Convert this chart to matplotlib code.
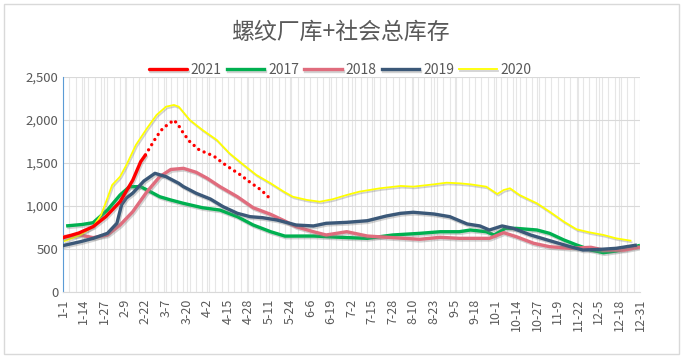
import numpy as np
import pandas as pd
import matplotlib
matplotlib.use('Agg')
import matplotlib.pyplot as plt
import matplotlib.patheffects as pe
from matplotlib.patches import Rectangle

plt.rcParams['font.family'] = ['Noto Sans CJK SC', 'DejaVu Sans']

# 日期轴 (1-1 ~ 12-31)
dates = pd.date_range('2021-01-01', '2021-12-31')
date_labels = [f'{d.month}-{d.day}' for d in dates]

# 2021 (实线 + 虚线预测)
d2021 = [0, 10, 19, 27, 36, 44, 49, 52]
v2021 = [632, 686, 760, 876, 1050, 1300, 1515, 1593]
d2021_dot = [52, 59, 63, 70, 73, 76, 80, 86, 95, 101, 105, 112, 118, 125, 130]
v2021_dot = [1593, 1806, 1904, 2000, 1934, 1845, 1748, 1651, 1582, 1497, 1446, 1361, 1276, 1186, 1097]

d2017 = [3, 12, 19, 28, 36, 42, 49, 55, 61, 68, 76, 88, 99, 110, 120, 131, 140, 158, 175, 192,
         208, 225, 238, 250, 257, 267, 272, 279, 286, 299, 307, 316, 324, 333, 341, 349, 358, 363]
v2017 = [770, 785, 806, 953, 1128, 1225, 1225, 1167, 1108, 1070, 1031, 980, 953, 876, 779, 701, 650, 651, 636, 624,
         663, 682, 701, 701, 721, 701, 663, 740, 740, 721, 682, 605, 547, 488, 457, 477, 515, 538]

d2018 = [0, 11, 19, 28, 36, 44, 53, 61, 68, 76, 84, 91, 99, 110, 120, 131, 140, 147, 158, 166,
         179, 192, 208, 225, 238, 250, 257, 269, 278, 286, 297, 307, 320, 333, 341, 354, 363]
v2018 = [643, 663, 632, 663, 779, 934, 1167, 1341, 1425, 1438, 1392, 1322, 1225, 1108, 980, 903, 825, 760, 701, 663,
         701, 651, 632, 613, 636, 624, 624, 624, 690, 643, 566, 527, 508, 520, 488, 488, 520]

d2019 = [0, 11, 19, 28, 34, 37, 40, 44, 51, 58, 65, 73, 76, 84, 93, 101, 110, 118, 126, 135, 143, 147,
         158, 166, 179, 192, 204, 213, 221, 234, 244, 255, 263, 269, 277, 284, 295, 307, 320, 328, 339, 349, 361]
v2019 = [540, 585, 624, 682, 799, 1017, 1094, 1150, 1290, 1380, 1341, 1264, 1225, 1148, 1081, 992, 915, 876, 864, 837, 799, 779,
         768, 799, 810, 829, 884, 915, 927, 907, 876, 791, 768, 721, 768, 740, 663, 597, 527, 488, 496, 508, 543]

d2020 = [1, 11, 19, 24, 28, 31, 36, 40, 46, 53, 59, 65, 70, 73, 80, 88, 97, 105, 114, 122, 131, 139, 145, 154,
         162, 170, 179, 187, 200, 213, 221, 234, 242, 250, 257, 267, 274, 278, 282, 288, 299, 307, 316, 324,
         332, 341, 349, 358]
v2020 = [593, 663, 760, 895, 1090, 1244, 1341, 1477, 1710, 1904, 2058, 2155, 2175, 2155, 2000, 1884, 1768, 1613, 1477, 1361, 1264, 1170, 1108, 1070,
         1050, 1078, 1128, 1167, 1206, 1233, 1225, 1252, 1271, 1264, 1252, 1225, 1140, 1186, 1206, 1128, 1031, 934, 818, 729,
         694, 663, 624, 597]

fig = plt.figure(figsize=(6.85, 3.6), dpi=100)
ax = fig.add_axes([63/685, 68/360, 577/685, 215/360])

shadow = [pe.SimpleLineShadow(offset=(0.8, -1.2), shadow_color='gray', alpha=0.35), pe.Normal()]

ax.plot(d2017, v2017, color='#00B050', lw=2.4, label='2017', path_effects=shadow, zorder=3)
ax.plot(d2018, v2018, color='#E06C7D', lw=2.4, label='2018', path_effects=shadow, zorder=3)
ax.plot(d2019, v2019, color='#3B5878', lw=2.4, label='2019', path_effects=shadow, zorder=4)
ax.plot(d2020, v2020, color='#FFFF00', lw=1.3, label='2020', path_effects=shadow, zorder=3)
ax.plot(d2021, v2021, color='#FF0000', lw=2.4, label='2021', path_effects=shadow, zorder=5,
        solid_capstyle='round')
ax.plot(d2021_dot, v2021_dot, color='#FF0000', lw=2.4, linestyle=(0, (0.01, 1.8)),
        dash_capstyle='round', zorder=5)

ax.set_xlim(0, 364)
ax.set_ylim(0, 2500)
ax.set_yticks(range(0, 2501, 500))
ax.set_yticklabels([f'{v:,}' for v in range(0, 2501, 500)])
ticks = list(range(0, 365, 13))
ax.set_xticks(ticks)
ax.set_xticklabels([date_labels[i] for i in ticks], rotation=90)
ax.set_xticks(range(0, 365, 4), minor=True)
ax.tick_params(axis='both', length=0, colors='#595959', labelsize=9.5)
ax.tick_params(axis='x', which='major', labelsize=9, pad=5)
ax.tick_params(axis='x', which='minor', length=0)
ax.grid(axis='y', color='#D9D9D9', lw=0.8)
ax.grid(axis='x', which='minor', color='#E6E6E6', lw=0.8)
ax.grid(axis='x', which='major', color='#E6E6E6', lw=0.8)
ax.set_axisbelow(True)
for s in ['top', 'right']:
    ax.spines[s].set_visible(False)
ax.spines['left'].set_color('#5B9BD5')
ax.spines['bottom'].set_color('#D9D9D9')

h, l = ax.get_legend_handles_labels()
order = [4, 0, 1, 2, 3]
fig.legend([h[i] for i in order], [l[i] for i in order], loc='center',
           bbox_to_anchor=(0.497, 1 - 70/360), ncol=5, frameon=False, fontsize=10,
           handlelength=2.7, columnspacing=0.35, handletextpad=0.3, labelcolor='#595959')

fig.text(0.497, 1 - 32/360, '螺纹厂库+社会总库存', ha='center', va='center',
         fontsize=16.5, color='#595959')

fig.patches.append(Rectangle((4/685, 6/360), 675/685, 350/360, transform=fig.transFigure,
                             fill=False, edgecolor='#D9D9D9', lw=1))

fig.savefig('out.png', dpi=100)
